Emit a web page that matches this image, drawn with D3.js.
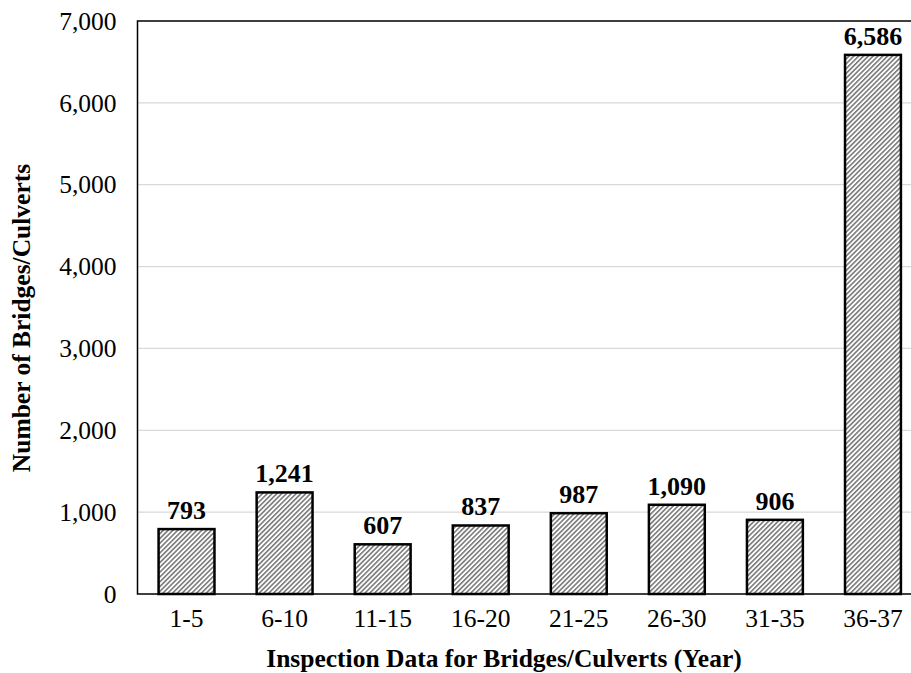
<!DOCTYPE html>
<html>
<head>
<meta charset="utf-8">
<script src="https://cdn.jsdelivr.net/npm/d3@7"></script>
<style>
  body { margin: 0; background: #fff; }
  svg { display: block; }
  text { font-family: "Liberation Serif", "Times New Roman", serif; fill: #000; }
</style>
</head>
<body>
<div id="chart"></div>
<script>
// data
const categories = ["1-5", "6-10", "11-15", "16-20", "21-25", "26-30", "31-35", "36-37"];
const counts = [793, 1241, 607, 837, 987, 1090, 906, 6586];
const yTicks = [0, 1000, 2000, 3000, 4000, 5000, 6000, 7000];

const data = categories.map((c, i) => ({ cat: c, value: counts[i] }));

// the plot runs a little past the right edge of the window, as in the reference
const margin = { top: 21, left: 137.5 },
    plotRight = 922,
    baseY = 594;

const svg = d3.select("#chart")
    .append("svg")
    .attr("width", 911)
    .attr("height", 673);

// hatch pattern
const defs = svg.append("defs");
defs.append("pattern")
    .attr("id", "hatch")
    .attr("patternUnits", "userSpaceOnUse")
    .attr("width", 3.4)
    .attr("height", 3.4)
    .attr("patternTransform", "rotate(45)")
    .call(p => {
        p.append("rect").attr("width", 3.4).attr("height", 3.4).attr("fill", "#fff");
        p.append("rect").attr("width", 1.6).attr("height", 3.4).attr("fill", "#7a7a7a");
    });

// scales
const x = d3.scaleBand()
    .domain(categories)
    .range([margin.left, plotRight])
    .paddingInner(0.43)
    .paddingOuter(0.215);

const y = d3.scaleLinear()
    .domain([0, 7000])
    .range([baseY, margin.top]);

// gridlines
svg.append("g")
    .selectAll("line")
    .data(yTicks.filter(d => d > 0 && d < 7000))
    .join("line")
    .attr("x1", margin.left)
    .attr("x2", plotRight)
    .attr("y1", d => y(d))
    .attr("y2", d => y(d))
    .attr("stroke", "#d9d9d9")
    .attr("stroke-width", 1.3);

// Y axis labels
const yAxis = svg.append("g")
    .attr("transform", `translate(${margin.left},0)`)
    .call(d3.axisLeft(y).tickValues(yTicks).tickSize(0).tickPadding(21).tickFormat(d3.format(",")));
yAxis.select(".domain").remove();
yAxis.selectAll("text")
    .style("font-family", '"Liberation Serif", "Times New Roman", serif')
    .style("font-size", "25.5px")
    .attr("fill", "#000");

// bars
svg.append("g")
    .selectAll("rect")
    .data(data)
    .join("rect")
    .attr("x", d => x(d.cat))
    .attr("y", d => y(d.value))
    .attr("width", x.bandwidth())
    .attr("height", d => baseY - y(d.value))
    .attr("fill", "url(#hatch)")
    .attr("stroke", "#000")
    .attr("stroke-width", 2.5);

// value labels
svg.append("g")
    .selectAll("text")
    .data(data)
    .join("text")
    .attr("x", d => x(d.cat) + x.bandwidth() / 2)
    .attr("y", d => y(d.value) - 10)
    .attr("text-anchor", "middle")
    .style("font-size", "26px")
    .style("font-weight", "bold")
    .text(d => d3.format(",")(d.value));

// frame: left, bottom, top
svg.append("path")
    .attr("d", `M${plotRight},${margin.top}H${margin.left}V${baseY}H${plotRight}`)
    .attr("fill", "none")
    .attr("stroke", "#000")
    .attr("stroke-width", 1.5);

// X axis labels
const xAxis = svg.append("g")
    .attr("transform", `translate(0,${baseY})`)
    .call(d3.axisBottom(x).tickSize(0).tickPadding(15));
xAxis.select(".domain").remove();
xAxis.selectAll("text")
    .style("font-family", '"Liberation Serif", "Times New Roman", serif')
    .style("font-size", "25.5px")
    .attr("fill", "#000");

// axis titles
svg.append("text")
    .attr("x", 504)
    .attr("y", 667)
    .attr("text-anchor", "middle")
    .style("font-size", "25.5px")
    .style("font-weight", "bold")
    .text("Inspection Data for Bridges/Culverts (Year)");

svg.append("text")
    .attr("transform", "translate(30,318) rotate(-90)")
    .attr("text-anchor", "middle")
    .style("font-size", "25.5px")
    .style("font-weight", "bold")
    .text("Number of Bridges/Culverts");
</script>
</body>
</html>
